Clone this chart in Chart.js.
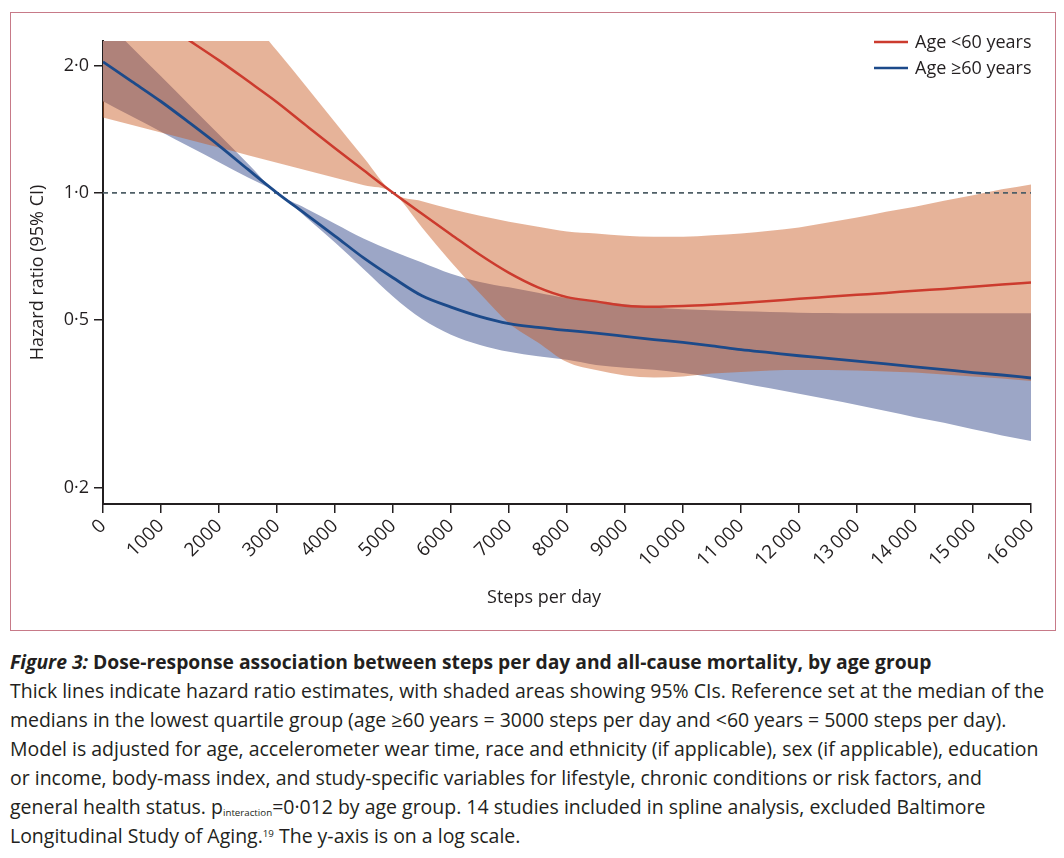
<!DOCTYPE html>
<html><head><meta charset="utf-8">
<script src="https://cdn.jsdelivr.net/npm/chart.js@4.4.1/dist/chart.umd.min.js"></script>
<style>
html,body{margin:0;padding:0;background:#fff;}
body{width:1064px;height:858px;position:relative;overflow:hidden;font-family:"Open Sans",sans-serif;color:#231f20;}
#frame{position:absolute;left:9.5px;top:11.5px;width:1046px;height:619px;border:1.5px solid #c77a88;box-sizing:border-box;}
#wrap{position:absolute;left:0;top:0;width:1064px;height:640px;}
#caption{position:absolute;left:10px;top:647px;}
.ln{white-space:nowrap;font-size:19px;line-height:29px;height:29px;}
.ttl{font-weight:700;}
sub{font-size:0.5em;vertical-align:-0.25em;line-height:0;}
sup{font-size:0.5em;vertical-align:0.6em;line-height:0;}
</style></head>
<body>
<div id="frame"></div>
<div id="wrap"><canvas id="c"></canvas></div>
<div id="caption">
<div class="ln ttl" id="l0"><i>Figure 3:</i> Dose-response association between steps per day and all-cause mortality, by age group</div>
<div class="ln" id="l1">Thick lines indicate hazard ratio estimates, with shaded areas showing 95% CIs. Reference set at the median of the</div>
<div class="ln">medians in the lowest quartile group (age ≥60 years = 3000 steps per day and &lt;60 years = 5000 steps per day).</div>
<div class="ln">Model is adjusted for age, accelerometer wear time, race and ethnicity (if applicable), sex (if applicable), education</div>
<div class="ln">or income, body-mass index, and study-specific variables for lifestyle, chronic conditions or risk factors, and</div>
<div class="ln">general health status. p<sub>interaction</sub>=0·012 by age group. 14 studies included in spline analysis, excluded Baltimore</div>
<div class="ln">Longitudinal Study of Aging.<sup>19</sup> The y-axis is on a log scale.</div>
</div>
<script>
// ---- data ----
const steps = [0,500,1000,1500,2000,2500,3000,3500,4000,4500,5000,5500,6000,6500,7000,7500,8000,
  8500,9000,9500,10000,10500,11000,11500,12000,12500,13000,13500,14000,14500,15000,15500,16000];

const under60HR = [3.14,2.83,2.54,2.29,2.06,1.84,1.64,1.445,1.275,1.129,1.0,0.892,0.797,0.713,0.646,0.597,0.566,
  0.553,0.540,0.537,0.539,0.543,0.548,0.554,0.561,0.567,0.573,0.579,0.586,0.592,0.599,0.606,0.613];
const under60Upper = [6.92,5.70,4.70,3.87,3.19,2.63,2.17,1.79,1.47,1.21,1.0,0.955,0.915,0.882,0.854,0.831,0.810,
  0.801,0.791,0.787,0.787,0.793,0.801,0.813,0.828,0.851,0.874,0.902,0.927,0.957,0.987,1.019,1.047];
const under60Lower = [1.509,1.448,1.390,1.334,1.280,1.228,1.179,1.131,1.086,1.042,1.0,0.828,0.686,0.577,0.491,0.442,0.397,
  0.380,0.369,0.365,0.367,0.373,0.376,0.379,0.380,0.380,0.379,0.377,0.375,0.371,0.367,0.363,0.358];

const over60HR = [2.044,1.835,1.646,1.462,1.294,1.136,1.0,0.889,0.790,0.700,0.629,0.570,0.536,0.509,0.490,0.480,0.472,
  0.465,0.457,0.449,0.442,0.434,0.425,0.418,0.411,0.405,0.399,0.393,0.387,0.381,0.375,0.370,0.364];
const over60Upper = [2.59,2.21,1.888,1.611,1.374,1.172,1.0,0.918,0.845,0.778,0.727,0.684,0.643,0.615,0.597,0.580,0.563,
  0.553,0.544,0.535,0.530,0.527,0.524,0.522,0.520,0.519,0.518,0.518,0.518,0.518,0.518,0.518,0.518];
const over60Lower = [1.649,1.517,1.396,1.284,1.182,1.087,1.0,0.875,0.762,0.658,0.568,0.502,0.461,0.436,0.420,0.410,0.402,
  0.391,0.385,0.381,0.374,0.365,0.354,0.344,0.334,0.324,0.314,0.304,0.294,0.285,0.275,0.266,0.258];

const referenceHR = [1, 1];
const referenceSteps = [0, 16000];

const xTicks = [0,1000,2000,3000,4000,5000,6000,7000,8000,9000,10000,11000,12000,13000,14000,15000,16000];
const xTickLabels = ['0','1000','2000','3000','4000','5000','6000','7000','8000','9000',
  '10\u2009000','11\u2009000','12\u2009000','13\u2009000','14\u2009000','15\u2009000','16\u2009000'];
const yTicks = [0.2,0.5,1,2];
const yTickLabels = ['0·2','0·5','1·0','2·0'];
const legendLabels = ['Age <60 years','Age \u226560 years'];
const xTitle = 'Steps per day';
const yTitle = 'Hazard ratio (95% CI)';

// ---- styling ----
const INK = '#231f20';
const FONT = '"Open Sans", sans-serif';
const RED = '#cc3b2e';
const BLUE = '#1c4a8a';
const RED_BAND = 'rgba(199,86,28,0.45)';
const BLUE_BAND = '#9ca6c6';

const pts = (xs, ys) => xs.map((x, i) => ({x, y: ys[i]}));

const base = {pointRadius: 0, pointHoverRadius: 0, cubicInterpolationMode: 'monotone', borderWidth: 0};

const legendPlugin = {
  id: 'cornerLegend',
  afterDraw(chart) {
    const {ctx, chartArea} = chart;
    const items = [[legendLabels[0], RED], [legendLabels[1], BLUE]];
    ctx.save();
    ctx.font = '18px ' + FONT;
    ctx.textBaseline = 'middle';
    ctx.textAlign = 'left';
    items.forEach(([label, color], i) => {
      const y = chartArea.top + 1 + i * 26;
      ctx.strokeStyle = color; ctx.lineWidth = 2.5;
      ctx.beginPath(); ctx.moveTo(chartArea.right - 157, y); ctx.lineTo(chartArea.right - 123, y); ctx.stroke();
      ctx.fillStyle = INK;
      ctx.fillText(label, chartArea.right - 116, y + 1);
    });
    // x-axis title (sits left of the axis centre in the original)
    ctx.font = '18px ' + FONT;
    ctx.textAlign = 'center';
    ctx.fillText(xTitle, (chartArea.left + chartArea.right) / 2 - 23, chart.scales.x.bottom - 14);
    ctx.restore();
  }
};

new Chart(document.getElementById('c'), {
  type: 'line',
  data: {
    datasets: [
      {...base, data: pts(steps, over60Upper), fill: false, order: 4},
      {...base, data: pts(steps, over60Lower), fill: '-1', backgroundColor: BLUE_BAND, order: 4},
      {...base, data: pts(steps, under60Upper), fill: false, order: 3},
      {...base, data: pts(steps, under60Lower), fill: '-1', backgroundColor: RED_BAND, order: 3},
      {pointRadius: 0, data: pts(referenceSteps, referenceHR), borderColor: '#4f5f67', borderWidth: 1.7,
        borderDash: [5, 4], fill: false, order: 2},
      {...base, data: pts(steps, over60HR), borderColor: BLUE, borderWidth: 2.8, fill: false, order: 1},
      {...base, data: pts(steps, under60HR), borderColor: RED, borderWidth: 2.5, fill: false, order: 0}
    ]
  },
  options: {
    responsive: true,
    maintainAspectRatio: false,
    animation: false,
    events: [],
    layout: {padding: {left: 24, top: 41, right: 33, bottom: 28}},
    plugins: {legend: {display: false}, tooltip: {enabled: false}},
    scales: {
      x: {
        type: 'linear', min: 0, max: 16000,
        afterBuildTicks: s => { s.ticks = xTicks.map(v => ({value: v})); },
        afterFit: s => { s.height = 108; },
        ticks: {autoSkip: false, maxRotation: 45, minRotation: 45, padding: 2, color: INK,
          font: {family: FONT, size: 19}, callback: (v, i) => xTickLabels[i]},
        grid: {drawOnChartArea: false, drawTicks: true, tickLength: 9, color: INK, lineWidth: 1.5},
        border: {display: true, color: INK, width: 2},
        title: {display: false}
      },
      y: {
        type: 'logarithmic', min: 0.183, max: 2.29,
        afterBuildTicks: s => { s.ticks = yTicks.map(v => ({value: v})); },
        afterFit: s => { s.width = 79; },
        ticks: {autoSkip: false, padding: 5, color: INK, font: {family: FONT, size: 18},
          callback: (v, i) => yTickLabels[i]},
        grid: {drawOnChartArea: false, drawTicks: true, tickLength: 9, color: INK, lineWidth: 1.5},
        border: {display: true, color: INK, width: 2},
        title: {display: true, text: yTitle, color: INK, font: {family: FONT, size: 18}, padding: {top: 3, bottom: 4}}
      }
    }
  },
  plugins: [legendPlugin]
});

// fit caption width to the reference column
(function () {
  const l1 = document.getElementById('l1');
  const w = l1.scrollWidth;
  const size = 19 * 1035 / w;
  document.querySelectorAll('.ln').forEach(el => { el.style.fontSize = size + 'px'; });
  document.getElementById('l0').style.fontSize = (size * 0.99) + 'px';
})();
</script>
</body></html>
